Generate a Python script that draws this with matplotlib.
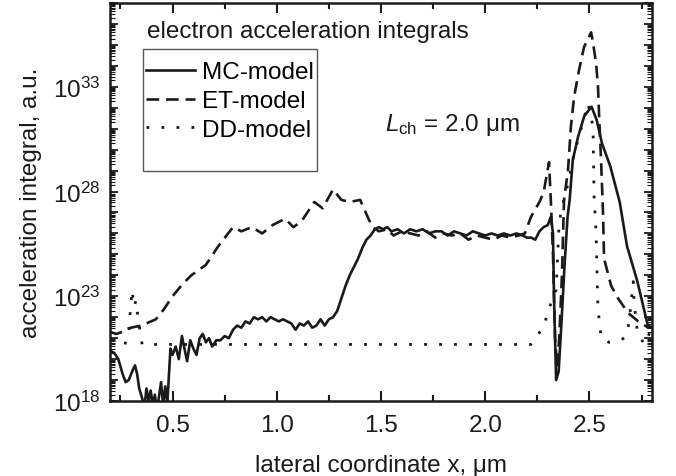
import numpy as np
import matplotlib
matplotlib.use("Agg")
import matplotlib.pyplot as plt
from matplotlib.ticker import FixedLocator, FuncFormatter, LogLocator, MultipleLocator, NullFormatter
from matplotlib.patches import Rectangle

plt.rcParams['font.family'] = ['Liberation Sans', 'DejaVu Sans']
plt.rcParams['mathtext.fontset'] = 'custom'
plt.rcParams['mathtext.rm'] = 'Liberation Sans'
plt.rcParams['mathtext.it'] = 'Liberation Sans:italic'
plt.rcParams['mathtext.bf'] = 'Liberation Sans:bold'

# ---- data: x in um, log10 of acceleration integral ----
mc_x = [0.20, 0.22, 0.24, 0.26, 0.275, 0.29, 0.31, 0.32, 0.33, 0.34, 0.355, 0.365, 0.375, 0.385,
        0.395, 0.405, 0.415, 0.425, 0.435, 0.445, 0.455, 0.465, 0.475, 0.49, 0.50, 0.515, 0.53,
        0.545, 0.555, 0.57, 0.585, 0.60, 0.615, 0.63, 0.645, 0.66, 0.675, 0.69, 0.71, 0.73, 0.75,
        0.77, 0.79, 0.81, 0.83, 0.85, 0.87, 0.89, 0.91, 0.93, 0.95, 0.97, 0.99, 1.01, 1.03, 1.05,
        1.07, 1.09, 1.11, 1.13, 1.15, 1.17, 1.19, 1.21, 1.23, 1.25, 1.27, 1.29, 1.31, 1.33, 1.35,
        1.37, 1.39, 1.41, 1.43, 1.45, 1.47, 1.49, 1.51, 1.53, 1.55, 1.58, 1.61, 1.64, 1.67, 1.70,
        1.73, 1.76, 1.79, 1.82, 1.85, 1.88, 1.91, 1.94, 1.97, 2.00, 2.03, 2.06, 2.09, 2.12, 2.15,
        2.18, 2.20, 2.22, 2.24, 2.26, 2.28, 2.30, 2.315, 2.325, 2.33, 2.34, 2.352, 2.365, 2.38,
        2.395, 2.405, 2.42, 2.445, 2.475, 2.51, 2.535, 2.56, 2.60, 2.645, 2.68, 2.73, 2.78, 2.80]
mc_y = [20.4, 20.3, 20.0, 19.3, 18.9, 19.0, 19.5, 19.7, 19.3, 18.6, 18.1, 17.7, 18.6, 18.0,
        18.5, 17.8, 18.3, 17.6, 18.2, 18.9, 17.8, 18.7, 17.9, 20.5, 20.2, 20.6, 20.0,
        21.1, 20.6, 19.9, 20.9, 20.5, 20.2, 21.0, 21.2, 20.8, 21.0, 20.6, 20.9, 20.9, 21.1,
        21.0, 21.4, 21.6, 21.5, 21.8, 21.7, 22.0, 21.9, 22.0, 21.8, 22.0, 21.9, 21.8, 21.9, 21.8,
        21.7, 21.4, 21.7, 21.6, 21.8, 21.5, 21.6, 21.9, 21.6, 21.9, 22.0, 22.3, 22.9, 23.5, 24.0,
        24.4, 24.8, 25.3, 25.7, 25.9, 26.2, 26.3, 26.2, 26.3, 26.1, 26.2, 26.0, 26.2, 26.1, 26.2,
        26.0, 26.1, 26.1, 25.9, 26.1, 26.0, 25.9, 26.1, 26.0, 25.9, 26.0, 25.9, 26.0, 25.9, 26.0,
        25.9, 25.8, 25.8, 25.7, 26.1, 26.3, 26.4, 26.8, 26.0, 22.9, 19.0, 19.4, 21.6, 24.4,
        26.8, 27.6, 29.5, 30.6, 31.6, 32.05, 31.4, 30.3, 29.2, 27.5, 25.4, 23.7, 21.6, 21.5]

et_x = [0.20, 0.23, 0.26, 0.30, 0.35, 0.42, 0.46, 0.50, 0.55, 0.59, 0.66, 0.72, 0.79, 0.83,
        0.88, 0.93, 0.98, 1.04, 1.08, 1.12, 1.18, 1.22, 1.27, 1.31, 1.35, 1.40, 1.44, 1.46, 1.49,
        1.53, 1.56, 1.60, 1.64, 1.68, 1.72, 1.76, 1.80, 1.84, 1.88, 1.92, 1.96, 2.00, 2.04, 2.08,
        2.12, 2.16, 2.19, 2.22, 2.26, 2.28, 2.306, 2.315, 2.325, 2.335, 2.345, 2.355, 2.368,
        2.378, 2.397, 2.411, 2.426, 2.45, 2.474, 2.508, 2.517, 2.532, 2.541, 2.546, 2.556, 2.565,
        2.57, 2.604, 2.637, 2.686, 2.734, 2.782, 2.80]
et_y = [21.3, 21.2, 21.3, 21.5, 21.6, 21.9, 22.4, 23.0, 23.6, 24.0, 24.5, 25.4, 26.3, 26.1,
        26.3, 26.0, 26.4, 26.7, 26.3, 26.6, 27.5, 27.2, 28.1, 27.6, 27.5, 27.6, 26.7, 26.3, 26.1,
        26.2, 25.9, 26.1, 26.0, 25.9, 26.1, 25.8, 26.0, 25.9, 26.0, 25.7, 25.9, 25.8, 25.7, 25.9,
        25.8, 25.9, 26.0, 26.8, 27.5, 27.95, 29.4, 27.5, 25.0, 21.0, 19.6, 21.0, 24.0,
        27.6, 29.0, 31.1, 32.5, 33.8, 34.9, 35.6, 35.1, 34.1, 33.0, 31.7, 29.4, 27.0,
        24.8, 23.5, 22.9, 22.2, 21.8, 21.5, 21.5]

dd_x = [0.272, 0.29, 0.306, 0.315, 0.325, 0.335, 0.345, 0.354, 0.60, 1.00, 1.50, 2.00, 2.219,
        2.277, 2.301, 2.325, 2.34, 2.354, 2.363, 2.40, 2.426, 2.46, 2.493, 2.517, 2.522, 2.532,
        2.537, 2.541, 2.556, 2.594, 2.652, 2.676, 2.69, 2.71, 2.714, 2.73, 2.763, 2.796]
dd_y = [20.7, 21.4, 23.3, 22.5, 22.8, 21.9, 21.3, 20.7, 20.7, 20.7, 20.7, 20.7, 20.7,
        21.5, 22.2, 23.0, 23.3, 26.4, 27.0, 28.5, 29.8, 31.0, 32.2, 31.1, 27.8, 26.0,
        23.8, 22.4, 21.0, 20.8, 20.9, 21.1, 21.75, 23.7, 22.7, 21.3, 20.7, 21.4]

series_labels = ["MC-model", "ET-model", "DD-model"]
x_ticks = [0.5, 1.0, 1.5, 2.0, 2.5]
y_label_exps = [18, 23, 28, 33]

FS = 17.5
fig = plt.figure(figsize=(6.76, 4.77), dpi=100)
ax = fig.add_axes([110/676, 1 - 402/477, 542/676, 398/477])

ax.plot(mc_x, 10.0**np.array(mc_y), color='#1a1a1a', lw=1.9, ls='-', label=series_labels[0],
        solid_joinstyle='round')
ax.plot(et_x, 10.0**np.array(et_y), color='#1a1a1a', lw=1.9, ls=(0, (4.8, 2.6)), label=series_labels[1])
ax.plot(dd_x, 10.0**np.array(dd_y), color='#1a1a1a', lw=2.0, ls=(0, (1.0, 4.4)), label=series_labels[2])

ax.set_yscale('log')
ax.set_xlim(0.2, 2.8)
ax.set_ylim(1e18, 1e37)

ax.xaxis.set_major_locator(FixedLocator(x_ticks))
ax.xaxis.set_minor_locator(MultipleLocator(0.25))
ax.xaxis.set_major_formatter(FuncFormatter(lambda v, p: f"{v:.1f}"))

decades = [10.0**e for e in range(18, 38)]
ax.yaxis.set_major_locator(FixedLocator(decades))
ax.yaxis.set_minor_locator(LogLocator(base=10, subs=np.arange(2, 10), numticks=100))
ax.yaxis.set_minor_formatter(NullFormatter())

def yfmt(v, p):
    e = int(round(np.log10(v)))
    if e in y_label_exps:
        return r"$10^{%d}$" % e
    return ""
ax.yaxis.set_major_formatter(FuncFormatter(yfmt))

for s in ax.spines.values():
    s.set_linewidth(1.8)
    s.set_color('#1a1a1a')

ax.tick_params(axis='both', which='both', direction='in', top=True, right=True, colors='#1a1a1a')
ax.tick_params(axis='x', which='major', length=7, width=1.5, labelsize=FS, pad=9)
ax.tick_params(axis='x', which='minor', length=4, width=1.5)
ax.tick_params(axis='y', which='major', length=6, width=1.3, labelsize=FS, pad=7)
ax.tick_params(axis='y', which='minor', length=3.5, width=0.8)

ax.set_xlabel("lateral coordinate x, μm", fontsize=FS, labelpad=13, color='#1a1a1a')
ax.set_ylabel("acceleration integral, a.u.", fontsize=FS, labelpad=8, color='#1a1a1a')

ax.text(0.068, 0.93, "electron acceleration integrals", transform=ax.transAxes,
        fontsize=FS, ha='left', va='center', color='#1a1a1a')
ax.text(0.507, 0.695, r"$L_{\mathrm{ch}}$ = 2.0 μm", transform=ax.transAxes,
        fontsize=FS, ha='left', va='center', color='#1a1a1a')

leg = ax.legend(loc='upper left', bbox_to_anchor=(0.058, 0.866), frameon=False, fontsize=FS,
                handlelength=2.0, handletextpad=0.3, labelspacing=0.28, borderpad=0.2,
                borderaxespad=0)
ax.add_patch(Rectangle((0.061, 0.578), 0.321, 0.306, transform=ax.transAxes, fill=False,
                       edgecolor='#555555', lw=1.0, zorder=5))

fig.savefig("out.png", dpi=100)
